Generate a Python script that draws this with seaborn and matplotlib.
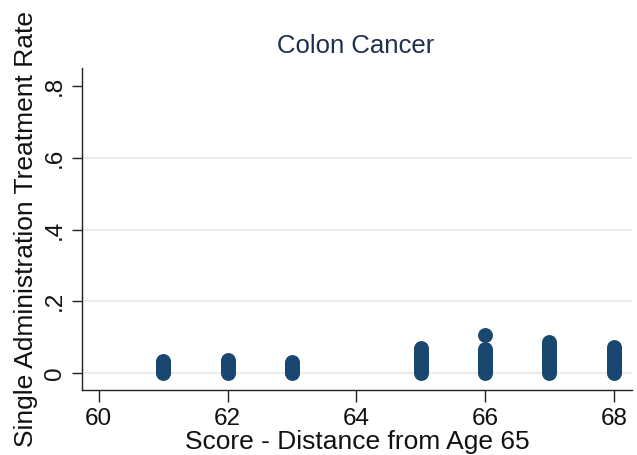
import matplotlib
matplotlib.use("Agg")
import matplotlib.pyplot as plt
import seaborn as sns
import pandas as pd

sns.set_style("white")
plt.rcParams['font.family'] = ['Liberation Sans', 'DejaVu Sans']

# data: treatment rates by score
score_61 = [0.0, 0.004, 0.009, 0.013, 0.018, 0.022, 0.027, 0.031, 0.035]
score_62 = [0.0, 0.005, 0.010, 0.014, 0.019, 0.024, 0.028, 0.032, 0.036]
score_63 = [0.0, 0.004, 0.008, 0.012, 0.017, 0.021, 0.026, 0.030]
score_65 = [0.0, 0.006, 0.012, 0.019, 0.025, 0.031, 0.038, 0.044, 0.050, 0.057, 0.063, 0.070]
score_66 = [0.0, 0.006, 0.012, 0.018, 0.024, 0.030, 0.036, 0.042, 0.048, 0.054, 0.060, 0.066, 0.105]
score_67 = [0.0, 0.006, 0.012, 0.019, 0.025, 0.031, 0.037, 0.044, 0.050, 0.057, 0.063, 0.069, 0.076, 0.082, 0.088]
score_68 = [0.0, 0.006, 0.012, 0.018, 0.024, 0.030, 0.037, 0.043, 0.049, 0.055, 0.061, 0.068, 0.074]

groups = {61: score_61, 62: score_62, 63: score_63, 65: score_65,
          66: score_66, 67: score_67, 68: score_68}
rows = [(s, v) for s, vals in groups.items() for v in vals]
df = pd.DataFrame(rows, columns=["score", "rate"])

xticks = [60, 62, 64, 66, 68]
yticks = [0, 0.2, 0.4, 0.6, 0.8]
ytick_labels = ["0", ".2", ".4", ".6", ".8"]
grid_y = [0, 0.2, 0.4, 0.6]

fig = plt.figure(figsize=(6.37, 4.55), dpi=100)
ax = fig.add_axes([0.1287, 0.1429, 0.992 - 0.1287, 0.8505 - 0.1429])

navy = "#1a476f"
sns.scatterplot(data=df, x="score", y="rate", ax=ax, color=navy, s=115,
                edgecolor=navy, linewidth=0, zorder=3)

ax.set_xlim(59.74, 68.28)
ax.set_ylim(-0.047, 0.85)
ax.set_xticks(xticks)
ax.set_xticklabels([str(t) for t in xticks], fontsize=17.5, color="#111111")
ax.set_yticks(yticks)
ax.set_yticklabels(ytick_labels, fontsize=17.5, rotation=90, va="center",
                   color="#111111")

for y in grid_y:
    ax.axhline(y, color="#eaeaea", lw=1.3, zorder=0)

for side in ["top", "right"]:
    ax.spines[side].set_visible(False)
for side in ["left", "bottom"]:
    ax.spines[side].set_color("#222222")
    ax.spines[side].set_linewidth(1.0)

ax.tick_params(axis="x", length=8.5, width=1, color="#222222",
               direction="out", bottom=True, pad=4.5)
ax.tick_params(axis="y", length=7.5, width=1, color="#222222",
               direction="out", left=True, pad=4)

ax.set_xlabel("Score - Distance from Age 65", fontsize=19, labelpad=0.3,
              color="#111111")
ax.set_ylabel("Single Administration Treatment Rate", fontsize=19, labelpad=4,
              color="#111111")
fig.text(0.559, 0.899, "Colon Cancer", ha="center", va="center",
         fontsize=18.5, color="#1e2f4f")

fig.savefig("out.png", dpi=100)
